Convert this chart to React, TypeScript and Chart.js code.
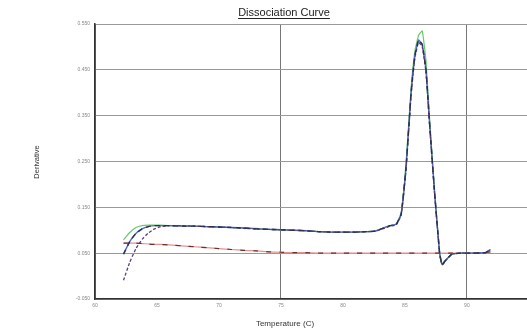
import React, { useEffect, useRef } from "react";
import { Chart, registerables } from "chart.js";

Chart.register(...registerables);

const chartTitle = "Dissociation Curve";
const xTitle = "Temperature (C)";
const yTitle = "Derivative";

const temps = [62.3, 62.8, 63.3, 63.8, 64.3, 64.8, 65.3, 66, 67, 68, 69, 70, 71, 72, 73, 74, 75, 76, 77, 78, 79, 80, 81, 82, 82.6, 83.2, 83.8, 84.3, 84.7, 85.1, 85.5, 85.8, 86.1, 86.4, 86.7, 87.0, 87.4, 87.8, 88.0, 88.3, 88.8, 89.5, 90.5, 91.5, 91.9];

const blueSeries = [0.048, 0.075, 0.093, 0.103, 0.108, 0.110, 0.110, 0.110, 0.109, 0.109, 0.108, 0.107, 0.106, 0.105, 0.103, 0.102, 0.101, 0.100, 0.099, 0.097, 0.096, 0.096, 0.096, 0.097, 0.098, 0.104, 0.110, 0.113, 0.135, 0.24, 0.40, 0.48, 0.515, 0.505, 0.45, 0.33, 0.18, 0.05, 0.025, 0.035, 0.048, 0.050, 0.050, 0.051, 0.058];

const greenSeries = [0.079, 0.095, 0.106, 0.110, 0.111, 0.111, 0.111, 0.110, 0.110, 0.109, 0.108, 0.107, 0.106, 0.105, 0.104, 0.102, 0.101, 0.100, 0.099, 0.097, 0.096, 0.096, 0.096, 0.097, 0.098, 0.104, 0.110, 0.114, 0.138, 0.25, 0.41, 0.49, 0.525, 0.535, 0.47, 0.34, 0.185, 0.052, 0.026, 0.036, 0.048, 0.050, 0.050, 0.051, 0.058];

const purpleSeries = [-0.009, 0.03, 0.06, 0.08, 0.094, 0.103, 0.108, 0.110, 0.110, 0.109, 0.108, 0.107, 0.106, 0.104, 0.103, 0.102, 0.101, 0.100, 0.099, 0.097, 0.096, 0.096, 0.096, 0.097, 0.098, 0.103, 0.109, 0.112, 0.133, 0.235, 0.395, 0.475, 0.51, 0.50, 0.445, 0.325, 0.178, 0.049, 0.024, 0.034, 0.048, 0.050, 0.050, 0.051, 0.057];

const redSeries = [0.072, 0.072, 0.072, 0.071, 0.070, 0.069, 0.069, 0.068, 0.066, 0.064, 0.062, 0.060, 0.058, 0.056, 0.055, 0.053, 0.052, 0.051, 0.051, 0.050, 0.050, 0.050, 0.050, 0.050, 0.050, 0.050, 0.050, 0.050, 0.050, 0.050, 0.050, 0.050, 0.050, 0.050, 0.050, 0.050, 0.050, 0.050, 0.050, 0.050, 0.050, 0.050, 0.050, 0.051, 0.053];

const yTicks = [-0.05, 0.05, 0.15, 0.25, 0.35, 0.45, 0.55];
const xTicks = [60, 65, 70, 75, 80, 85, 90];

const toPoints = (vals: number[]) => temps.map((t, i) => ({ x: t, y: vals[i] }));

const textPlugin = {
  id: "textPlugin",
  afterDraw(chart: any) {
    const ctx = chart.ctx;
    ctx.save();
    ctx.fillStyle = "#222";
    ctx.font = "11px 'Liberation Sans', Arial, sans-serif";
    ctx.textAlign = "center";
    ctx.textBaseline = "alphabetic";
    const tx = 284;
    ctx.fillText(chartTitle, tx, 16);
    const w = ctx.measureText(chartTitle).width;
    ctx.strokeStyle = "#222";
    ctx.lineWidth = 1;
    ctx.beginPath();
    ctx.moveTo(tx - w / 2, 18.5);
    ctx.lineTo(tx + w / 2, 18.5);
    ctx.stroke();

    ctx.font = "8px 'Liberation Sans', Arial, sans-serif";
    ctx.fillStyle = "#333";
    ctx.fillText(xTitle, 285, 326);

    ctx.font = "7.5px 'Liberation Sans', Arial, sans-serif";
    ctx.translate(37, 162);
    ctx.rotate(-Math.PI / 2);
    ctx.textBaseline = "middle";
    ctx.fillText(yTitle, 0, 0);
    ctx.restore();
  },
};

export default function App() {
  const ref = useRef<HTMLCanvasElement | null>(null);
  useEffect(() => {
    if (!ref.current) return;
    const t = 0.12;
    const chart = new Chart(ref.current, {
      type: "line",
      data: {
        datasets: [
          { data: toPoints(blueSeries), borderColor: "#2c3240", borderWidth: 1.4, borderDash: [5, 4], pointRadius: 0, tension: t, order: 0 },
          { data: toPoints(purpleSeries), borderColor: "#5a3c7c", borderWidth: 1.3, borderDash: [3, 2], pointRadius: 0, tension: t, order: 1 },
          { data: toPoints(blueSeries), borderColor: "#4a6cd0", borderWidth: 1.4, pointRadius: 0, tension: t, order: 2 },
          { data: toPoints(greenSeries), borderColor: "#6cc86c", borderWidth: 1.2, pointRadius: 0, tension: t, order: 3 },
          { data: toPoints(redSeries), borderColor: "#6a3030", borderWidth: 1.2, borderDash: [5, 8], pointRadius: 0, tension: t, order: 4 },
          { data: toPoints(redSeries), borderColor: "#e89090", borderWidth: 1.2, pointRadius: 0, tension: t, order: 5 },
        ],
      },
      options: {
        animation: false,
        responsive: true,
        maintainAspectRatio: false,
        layout: { padding: { top: 24, right: 0, bottom: 0, left: 0 } },
        plugins: { legend: { display: false }, tooltip: { enabled: false }, title: { display: false } },
        scales: {
          x: {
            type: "linear",
            min: 60,
            max: 94.85,
            afterFit: (s: any) => { s.height = 34; },
            afterBuildTicks: (s: any) => { s.ticks = xTicks.map((v) => ({ value: v })); },
            ticks: {
              autoSkip: false,
              maxRotation: 0,
              padding: 4,
              color: "#888",
              font: { size: 5, family: "'Liberation Sans', Arial" },
              callback: (v: any) => String(v),
            },
            grid: {
              color: (c: any) => (c.tick && c.tick.value % 15 === 0 ? "#777" : "rgba(0,0,0,0)"),
              lineWidth: 1,
              drawTicks: false,
            },
            border: { color: "#333", width: 1.5 },
          },
          y: {
            min: -0.05,
            max: 0.55,
            afterFit: (s: any) => { s.width = 95; },
            afterBuildTicks: (s: any) => { s.ticks = yTicks.map((v) => ({ value: v })); },
            ticks: {
              padding: 5,
              color: "#888",
              font: { size: 5, family: "'Liberation Sans', Arial" },
              callback: (v: any) => Number(v).toFixed(3),
            },
            grid: { color: "#999", lineWidth: 1, drawTicks: false },
            border: { color: "#333", width: 1.5 },
          },
        },
      },
      plugins: [textPlugin],
    });
    return () => chart.destroy();
  }, []);
  return (
    <div style={{ position: "fixed", left: 0, top: 0, width: 527, height: 333, background: "#fff" }}>
      <canvas ref={ref} />
    </div>
  );
}
